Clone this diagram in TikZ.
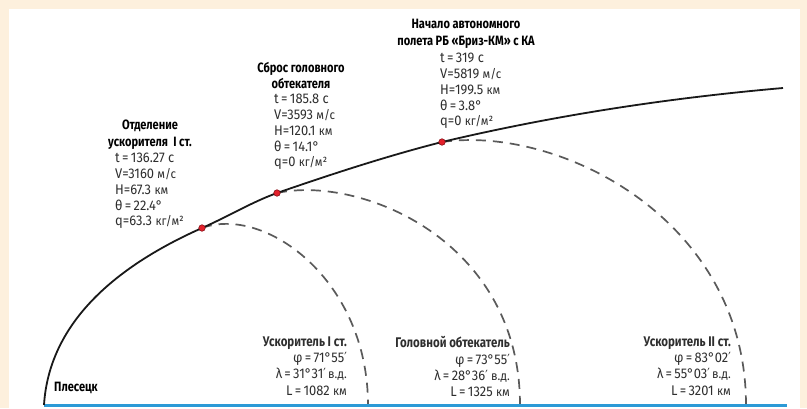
\documentclass[tikz,border=0pt]{standalone}
\usepackage{fontspec}
\setmainfont{Fira Sans}
\newfontfamily\headfont{Fira Sans}[FakeStretch=0.82]
\newfontfamily\datafont{Fira Sans}[FakeStretch=0.92]
\newfontfamily\symbfont{DejaVu Sans}[FakeStretch=0.8]
\usepackage{xcolor}
\definecolor{cBack}{HTML}{FDF0DD}
\definecolor{cGround}{HTML}{2C9AD6}
\definecolor{cEvent}{HTML}{E3202B}
\definecolor{cDash}{HTML}{5A5A5A}
\definecolor{cText}{HTML}{2E2E2E}
\usepackage{tikz}
\usetikzlibrary{positioning,calc}
\tikzset{
  node-title/.style={inner sep=0pt,align=center,text=black,
    font=\headfont\bfseries\fontsize{13.5}{16.5}\selectfont},
  node-data/.style={inner sep=0pt,align=left,text=cText,
    font=\datafont\fontsize{14}{15.8}\selectfont},
  node-fall/.style={inner sep=0pt,align=right,text=cText,
    font=\datafont\fontsize{14}{16.2}\selectfont},
  dot-event/.style={circle,inner sep=0pt,minimum size=6.5pt,
    fill=cEvent,draw=cEvent!60!black,line width=0.6pt},
  line-traj/.style={line width=1.8pt,draw=black!90},
  line-fall/.style={line width=1.7pt,draw=cDash,dash pattern=on 10pt off 7pt},
  line-ground/.style={line width=3pt,draw=cGround},
}
% единицы измерения чуть мельче основного текста
\newcommand{\un}[1]{{\fontsize{12.5}{12}\selectfont #1}}
\newcommand{\hd}[1]{{\headfont\bfseries #1}}
\newcommand{\mn}{{\symbfont ′}}

\begin{document}
\begin{tikzpicture}[x=1pt,y=-1pt]
  \useasboundingbox (0,0) rectangle (807,408);
  \fill[cBack] (0,0) rectangle (807,408);
  \fill[white] (9,9) rectangle (800,408);

  % точки траектории
  \coordinate (start) at (44,405);
  \coordinate (ev1) at (202,228);
  \coordinate (ev2) at (277,193);
  \coordinate (ev3) at (442,142);
  \coordinate (fin) at (783,88);
  \coordinate (gnd-end) at (787,405);
  \coordinate (fall1) at (368,405);
  \coordinate (fall2) at (520,405);
  \coordinate (fall3) at (746,405);

  % участки падения
  \draw[line-fall] (ev1) .. controls (265,205) and (368,280) .. (fall1);
  \draw[line-fall] (ev2) .. controls (360,175) and (520,240) .. (fall2);
  \draw[line-fall] (ev3) .. controls (560,125) and (746,220) .. (fall3);

  \draw[line-ground] (start) -- (gnd-end);

  % траектория выведения
  \draw[line-traj] (start) .. controls (49,325) and (112,268) .. (ev1)
    .. controls (227,217) and (252,202) .. (ev2)
    .. controls (332,174) and (387,156) .. (ev3)
    .. controls (556,115) and (669,98) .. (fin);

  \node[dot-event] (dot1) at (ev1) {};
  \node[dot-event] (dot2) at (ev2) {};
  \node[dot-event] (dot3) at (ev3) {};

  % события на траектории
  \node[node-title] (title1) at (150,134.5) {Отделение\\ускорителя\ \ I ст.};
  \node[node-data,anchor=north west] (data1) at (115,153)
    {t\,=\,136.27 с\\V=3160 \un{м/с}\\H=67.3 \un{км}\\θ\,=\,22.4°\\q=63.3 \un{кг/м²}};

  \node[node-title] (title2) at (301,75.5) {Сброс головного\\обтекателя};
  \node[node-data,anchor=north west] (data2) at (274,94)
    {t\,=\,185.8 с\\V=3593 \un{м/с}\\H=120.1 \un{км}\\θ\,=\,14.1°\\q=0 \un{кг/м²}};

  \node[node-title] (title3) at (466,34) {Начало автономного\\полета РБ «Бриз-КМ» с КА};
  \node[node-data,anchor=north west] (data3) at (440,53)
    {t\,=\,319 с\\V=5819 \un{м/с}\\H=199.5 \un{км}\\θ\,=\,3.8°\\q=0 \un{кг/м²}};

  % точки падения
  \node[node-fall,anchor=north east] (info1) at (347,336.5)
    {\hd{Ускоритель I ст.}\\φ\,=\,71°55\mn\\λ\,=\,31°31\mn\,\un{в.д.}\\L\,=\,1082 \un{км}};
  \node[node-fall,anchor=north east] (info2) at (510,336.5)
    {\hd{Головной обтекатель}\\φ\,=\,73°55\mn\\λ\,=\,28°36\mn\ \un{в.д.}\\L\,=\,1325 \un{км}};
  \node[node-fall,anchor=north east] (info3) at (731,336.5)
    {\hd{Ускоритель II ст.}\\φ\,=\,83°02\mn\\λ\,=\,55°03\mn\,\un{в.д.}\\L\,=\,3201 \un{км}};

  \node[node-title,anchor=west] (site) at (54,388) {Плесецк};
\end{tikzpicture}
\end{document}
